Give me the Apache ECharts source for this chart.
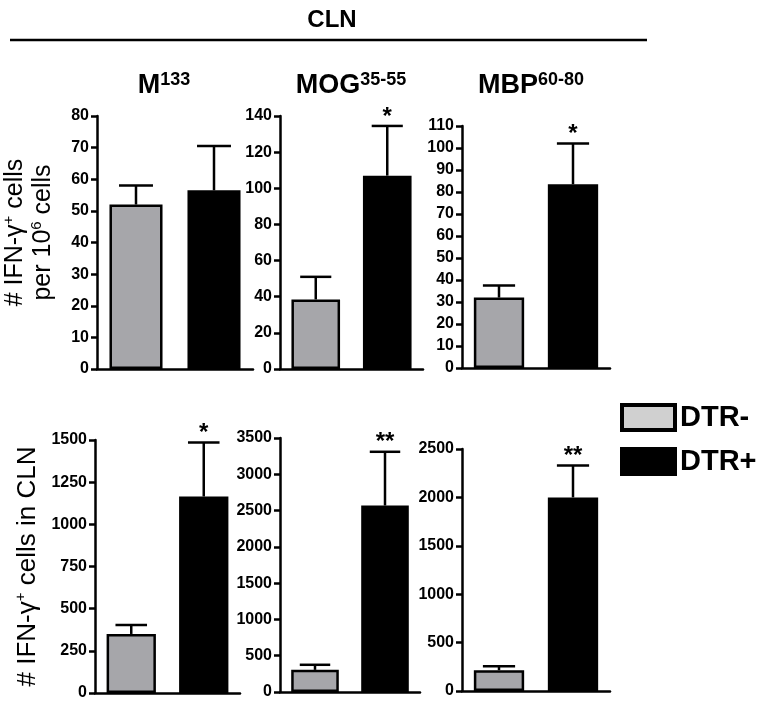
<!DOCTYPE html>
<html>
<head>
<meta charset="utf-8">
<script src="https://cdn.jsdelivr.net/npm/echarts@6/dist/echarts.min.js"></script>
<style>html,body{margin:0;padding:0;background:#fff}#c{width:761px;height:705px}</style>
</head>
<body>
<div id="c"></div>
<script>
// ---- data ----
const categories = ['DTR-', 'DTR+'];
const panelNames = ['M', 'MOG', 'MBP'];
const panelSups = ['133', '35-55', '60-80'];
// top row: # IFN-γ+ cells per 10^6 cells (mean, SEM)
const m133PerMillion = [52, 56.5];
const m133PerMillionSem = [6, 14];
const mogPerMillion = [38.5, 107];
const mogPerMillionSem = [12.5, 27.5];
const mbpPerMillion = [32, 83.5];
const mbpPerMillionSem = [5.5, 18.5];
// bottom row: # IFN-γ+ cells in CLN (mean, SEM)
const m133Total = [350, 1165];
const m133TotalSem = [53, 320];
const mogTotal = [305, 2570];
const mogTotalSem = [70, 740];
const mbpTotal = [215, 2000];
const mbpTotalSem = [40, 330];
// significance marks
const starsTop = [['', ''], ['', '*'], ['', '*']];
const starsBottom = [['', '*'], ['', '**'], ['', '**']];
// y axis ranges / ticks
const yMax = [80, 140, 110, 1500, 3500, 2500];
const yInterval = [10, 20, 10, 250, 500, 500];

const panels = [
  {mean: m133PerMillion, sem: m133PerMillionSem, stars: starsTop[0]},
  {mean: mogPerMillion, sem: mogPerMillionSem, stars: starsTop[1]},
  {mean: mbpPerMillion, sem: mbpPerMillionSem, stars: starsTop[2]},
  {mean: m133Total, sem: m133TotalSem, stars: starsBottom[0]},
  {mean: mogTotal, sem: mogTotalSem, stars: starsBottom[1]},
  {mean: mbpTotal, sem: mbpTotalSem, stars: starsBottom[2]}
];

// ---- layout ----
const grids = [
  {left: 96, width: 157, top: 116, height: 253},
  {left: 280, width: 143, top: 116, height: 253},
  {left: 462, width: 148, top: 126, height: 242},
  {left: 95, width: 145, top: 440, height: 253},
  {left: 280, width: 140, top: 438, height: 254},
  {left: 462, width: 148, top: 449, height: 242}
];
const FONT = '"Liberation Sans", Arial, Helvetica, sans-serif';
const GRAY = '#a6a6aa';

const chart = echarts.init(document.getElementById('c'), null, {renderer: 'canvas'});

const xAxes = [], yAxes = [], series = [];
grids.forEach((g, i) => {
  xAxes.push({
    type: 'category', gridIndex: i, data: categories, boundaryGap: true,
    axisLine: {lineStyle: {color: '#000', width: 2.5}},
    axisTick: {alignWithLabel: true, length: 7, lineStyle: {color: '#000', width: 2.5}},
    axisLabel: {show: false}, splitLine: {show: false}
  });
  const y = {
    type: 'value', gridIndex: i, min: 0, max: yMax[i], interval: yInterval[i],
    axisLine: {show: true, lineStyle: {color: '#000', width: 2.5}},
    axisTick: {show: true, length: 6, lineStyle: {color: '#000', width: 2.5}},
    axisLabel: {color: '#000', fontFamily: FONT, fontWeight: 'bold', fontSize: 16, margin: 8,
                formatter: v => String(v)},
    splitLine: {show: false}
  };
  if (i === 0) {
    y.name = '{t|# IFN-γ}{s|+}{t| cells}\n{t|per 10}{s|6}{t| cells}';
    y.nameLocation = 'middle';
    y.nameRotate = 90;
    y.nameGap = 40;
    y.nameTextStyle = {
      color: '#000', fontFamily: FONT, fontSize: 25, lineHeight: 28, padding: [0, 0, 0, 20],
      rich: {
        t: {fontFamily: FONT, fontSize: 25, color: '#000', lineHeight: 28},
        s: {fontFamily: FONT, fontSize: 15, color: '#000', verticalAlign: 'top', lineHeight: 22}
      }
    };
  }
  if (i === 3) {
    y.name = '{t|# IFN-γ}{s|+}{t| cells in CLN}';
    y.nameLocation = 'middle';
    y.nameRotate = 90;
    y.nameGap = 52;
    y.nameTextStyle = {
      color: '#000', fontFamily: FONT, fontSize: 26,
      rich: {
        t: {fontFamily: FONT, fontSize: 26, color: '#000', lineHeight: 30},
        s: {fontFamily: FONT, fontSize: 15, color: '#000', verticalAlign: 'top', lineHeight: 22}
      }
    };
  }
  yAxes.push(y);

  const p = panels[i];
  series.push({
    name: categories[0], type: 'bar', xAxisIndex: i, yAxisIndex: i, stack: 's' + i,
    barWidth: '68%', data: [p.mean[0], '-'],
    itemStyle: {color: GRAY, borderColor: '#000', borderWidth: 2.5},
    silent: true, z: 2
  });
  series.push({
    name: categories[1], type: 'bar', xAxisIndex: i, yAxisIndex: i, stack: 's' + i,
    barWidth: '68%', data: ['-', p.mean[1]],
    itemStyle: {color: '#000', borderColor: '#000', borderWidth: 2.5},
    silent: true, z: 2
  });
  series.push({
    type: 'custom', xAxisIndex: i, yAxisIndex: i, silent: true, z: 3,
    data: categories.map((c, k) => [k, p.mean[k], p.mean[k] + p.sem[k]]),
    renderItem: function (params, api) {
      const k = api.value(0);
      const base = api.coord([k, api.value(1)]);
      const top = api.coord([k, api.value(2)]);
      const bw = api.size([1, 0])[0] * 0.68;
      const half = bw * 0.32;
      const star = panels[i].stars[k];
      const children = [
        {type: 'line', shape: {x1: base[0], y1: base[1], x2: top[0], y2: top[1]},
         style: {stroke: '#000', lineWidth: 2.5}},
        {type: 'line', shape: {x1: top[0] - half, y1: top[1], x2: top[0] + half, y2: top[1]},
         style: {stroke: '#000', lineWidth: 2.5}}
      ];
      if (star) {
        children.push({type: 'text', x: top[0], y: top[1] + 3,
          style: {text: star, fontFamily: FONT, fontWeight: 'bold', fontSize: 24,
                  fill: '#000', align: 'center', verticalAlign: 'bottom'}});
      }
      return {type: 'group', children: children};
    }
  });
});

function titleText(name, sup, x) {
  return {
    type: 'text', x: x, y: 86,
    style: {
      text: '{b|' + name + '}{s|' + sup + '}', align: 'center', verticalAlign: 'middle',
      rich: {
        b: {fontFamily: FONT, fontWeight: 'bold', fontSize: 27, fill: '#000', lineHeight: 30},
        s: {fontFamily: FONT, fontWeight: 'bold', fontSize: 18, fill: '#000', lineHeight: 22, verticalAlign: 'top'}
      }
    }
  };
}

const option = {
  backgroundColor: '#fff',
  animation: false,
  grid: grids.map(g => Object.assign({containLabel: false}, g)),
  xAxis: xAxes,
  yAxis: yAxes,
  series: series,
  legend: {
    data: [
      {name: 'DTR-', itemStyle: {color: '#d0d0d0', borderColor: '#000', borderWidth: 4}},
      {name: 'DTR+', itemStyle: {color: '#000', borderColor: '#000', borderWidth: 4}}
    ],
    orient: 'vertical', left: 620, top: 403, padding: 0,
    icon: 'rect', itemWidth: 53, itemHeight: 25, itemGap: 15,
    selectedMode: false,
    textStyle: {fontFamily: FONT, fontWeight: 'bold', fontSize: 29, color: '#000'}
  },
  graphic: [
    {type: 'text', x: 332, y: 20,
     style: {text: 'CLN', fontFamily: FONT, fontWeight: 'bold', fontSize: 24, fill: '#000', align: 'center', verticalAlign: 'middle'}},
    {type: 'line', shape: {x1: 10, y1: 40, x2: 647, y2: 40}, style: {stroke: '#000', lineWidth: 2.5}},
    titleText(panelNames[0], panelSups[0], 164),
    titleText(panelNames[1], panelSups[1], 351),
    titleText(panelNames[2], panelSups[2], 531)
  ]
};
chart.setOption(option);
</script>
</body>
</html>
